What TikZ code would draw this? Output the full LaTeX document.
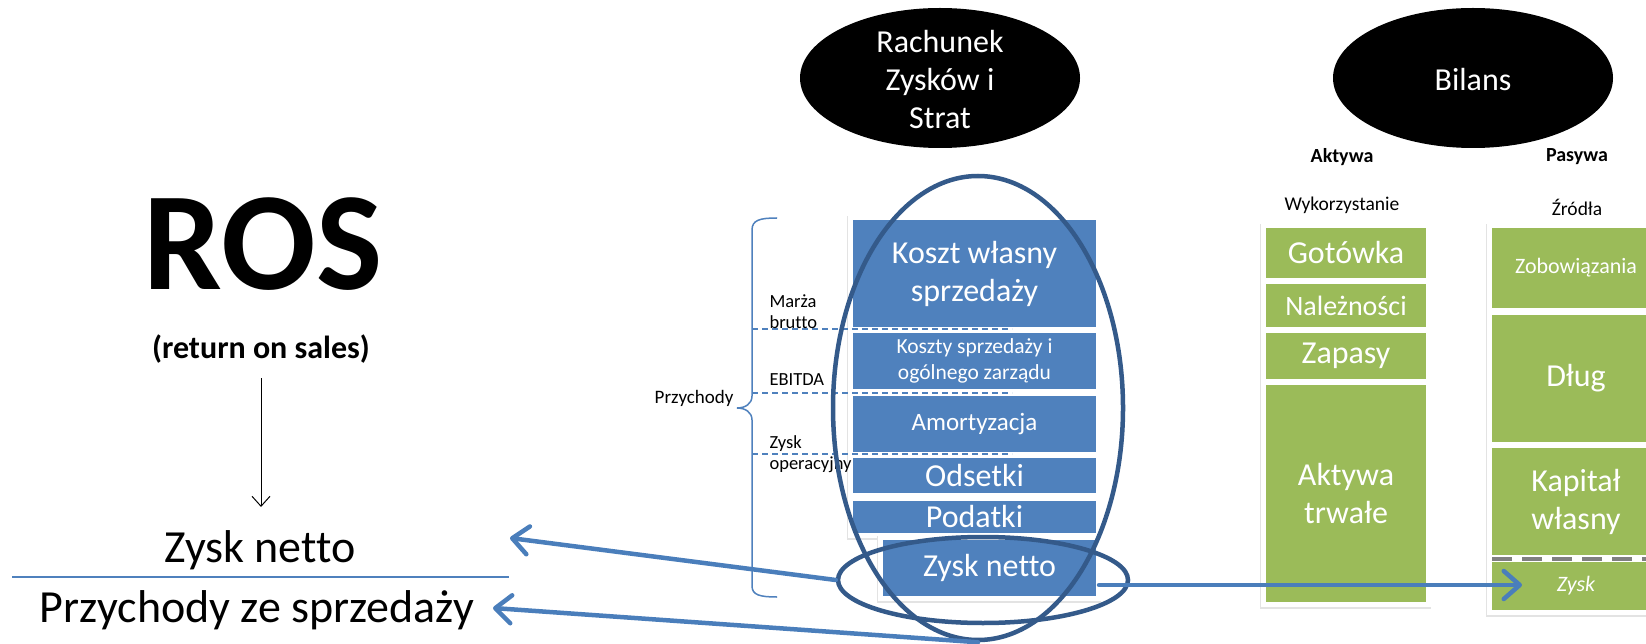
\documentclass[tikz,border=0pt]{standalone}
\usepackage{fontspec}
\setmainfont{Carlito}[Ligatures=NoCommon]
\usetikzlibrary{shapes.geometric,arrows.meta}
\definecolor{barblue}{RGB}{79,129,189}
\definecolor{bargreen}{RGB}{155,187,89}
\definecolor{ringblue}{RGB}{52,90,138}
\definecolor{arrowblue}{RGB}{74,126,187}
\newcommand\fsz[2]{\fontsize{#1}{#2}\selectfont}
\tikzset{
  panel/.style={draw=white, line width=5pt, inner sep=0pt, text=white, align=center,
    preaction={draw=black!11, line width=6.5pt, transform canvas={shift={(-0.3pt,-1.5pt)}}}},
  bluebar/.style={panel, fill=barblue},
  greenbar/.style={panel, fill=bargreen},
  blackell/.style={ellipse, fill=black, minimum width=280pt, minimum height=140pt, inner sep=0pt},
  elltext/.style={text=white, align=center, font=\fsz{32}{38}},
  ring/.style={ellipse, draw=ringblue, line width=4.5pt, inner sep=0pt},
  bigarrow/.style={draw=arrowblue, line width=4.5pt, line cap=round, -{Straight Barb[length=16pt,width=28pt,round]}},
  thinarrow/.style={draw=black, line width=1pt, -{Straight Barb[length=10pt,width=18pt]}},
  sidelabel/.style={anchor=west, align=left, font=\fsz{18.5}{21}},
  colhead/.style={font=\bfseries\fsz{20}{24}},
  colsub/.style={font=\fsz{19.5}{23}},
  dashline/.style={draw=barblue, line width=1.5pt, dash pattern=on 6pt off 4pt},
  brace/.style={draw=barblue, line width=1.5pt}
}
\begin{document}
\begin{tikzpicture}[x=1pt,y=-1pt]
\useasboundingbox (0,0) rectangle (1646,644);
\fill[white] (0,0) rectangle (1646,644);

% ---- left: ROS formula
\node[anchor=base, font=\bfseries\fsz{140}{168}] (ros) at (263,290) {ROS};
\node[anchor=base, font=\bfseries\fsz{32}{38}] (rosub) at (261,358) {(return on sales)};
\coordinate (a1) at (261,378);
\coordinate (a2) at (261,507);
\draw[thinarrow] (a1) -- (a2);
\node[anchor=base, font=\fsz{46}{55}] (num) at (260,562) {Zysk netto};
\node[anchor=base, font=\fsz{46}{55}] (den) at (257,622) {Przychody ze sprzedaży};
\coordinate (f1) at (12,577);
\coordinate (f2) at (509,577);
\draw[draw=barblue, line width=2.5pt] (f1) -- (f2);

% ---- black ellipses
\node[blackell] (rzs) at (940,78) {};
\node[elltext] (rzst) at (940,80) {Rachunek\\Zysków i\\Strat};
\node[blackell] (bil) at (1473,78) {};
\node[elltext] (bilt) at (1473,80) {Bilans};

% ---- income statement bars
\node[bluebar, minimum width=248pt, minimum height=112pt, font=\fsz{32}{38}] (ksw) at (974.5,273.5) {Koszt własny\\sprzedaży};
\node[bluebar, minimum width=248pt, minimum height=61pt, font=\fsz{21.5}{26}] (ksz) at (974.5,361) {Koszty sprzedaży i\\ogólnego zarządu};
\node[bluebar, minimum width=248pt, minimum height=61pt, font=\fsz{25}{30}] (amo) at (974.5,424) {Amortyzacja};
\node[bluebar, minimum width=248pt, minimum height=40pt, font=\fsz{32}{38}] (ods) at (974.5,475.5) {Odsetki};
\node[bluebar, minimum width=248pt, minimum height=37pt, font=\fsz{32}{38}] (pod) at (974.5,517) {Podatki};
\node[bluebar, minimum width=218pt, minimum height=61pt, font=\fsz{32}{38}] (zn) at (989.5,568) {Zysk netto};

% brace and levels
\draw[brace] (777,218) .. controls (760,218) and (752,220) .. (752,230) -- (752,396)
  .. controls (752,404) and (745,408) .. (737,408)
  .. controls (745,408) and (752,412) .. (752,420) -- (752,586)
  .. controls (752,595) and (760,597) .. (777,597);
\node[anchor=east, font=\fsz{19}{23}] (prz) at (737,398) {Przychody};
\coordinate (d1a) at (752,329); \coordinate (d1b) at (1012,329);
\coordinate (d2a) at (752,393); \coordinate (d2b) at (1012,393);
\coordinate (d3a) at (752,454); \coordinate (d3b) at (1012,454);
\draw[dashline] (d1a) -- (d1b);
\draw[dashline] (d2a) -- (d2b);
\draw[dashline] (d3a) -- (d3b);
\node[sidelabel] (mb) at (766,312) {Marża\\brutto};
\node[sidelabel] (eb) at (766,380) {EBITDA};
\node[sidelabel] (zo) at (766,454) {Zysk\\operacyjny};

% ---- balance sheet
\node[colhead] (akh) at (1342,157) {Aktywa};
\node[colhead] (pah) at (1577,157) {Pasywa};
\node[colsub] (wyk) at (1342,205) {Wykorzystanie};
\node[colsub] (zro) at (1577,207) {Źródła};

\node[greenbar, minimum width=165pt, minimum height=55pt, font=\fsz{32}{38}] (got) at (1346,253) {Gotówka};
\node[greenbar, minimum width=165pt, minimum height=48pt, font=\fsz{28}{34}] (nal) at (1346,305.5) {Należności};
\node[greenbar, minimum width=165pt, minimum height=51pt, font=\fsz{32}{38}] (zap) at (1346,356) {Zapasy};
\node[greenbar, minimum width=165pt, minimum height=222pt, font=\fsz{32}{38}] (akt) at (1346,493.5) {Aktywa\\trwałe};

\node[greenbar, minimum width=173pt, minimum height=85pt, font=\fsz{22}{26}] (zob) at (1576,268) {Zobowiązania};
\node[greenbar, minimum width=173pt, minimum height=132pt, font=\fsz{32}{38}] (dlu) at (1576,378.5) {Dług};
\node[greenbar, minimum width=173pt, minimum height=112pt, font=\fsz{32}{38}] (kap) at (1576,501.5) {Kapitał\\własny};
\node[greenbar, minimum width=173pt, minimum height=53pt, font=\itshape\fsz{22}{26}] (zys) at (1576,586) {Zysk};
\coordinate (s1) at (1492,558.5); \coordinate (s2) at (1660,558.5);
\draw[draw=black!50, line width=4pt, dash pattern=on 20pt off 10pt] (s1) -- (s2);

% ---- arrows
\coordinate (t1) at (510,538);
\coordinate (t2) at (493,608);
\coordinate (h1) at (1099,585);
\coordinate (h2) at (1522,585);
\node[ring, minimum width=290pt, minimum height=464pt] (big) at (978,408) {};
\node[ring, minimum width=290pt, minimum height=86pt] (small) at (983,580) {};
\draw[bigarrow] (small.west) -- (t1);
\draw[bigarrow] (big.south) -- (t2);
\draw[bigarrow] (h1) -- (h2);
\end{tikzpicture}
\end{document}
